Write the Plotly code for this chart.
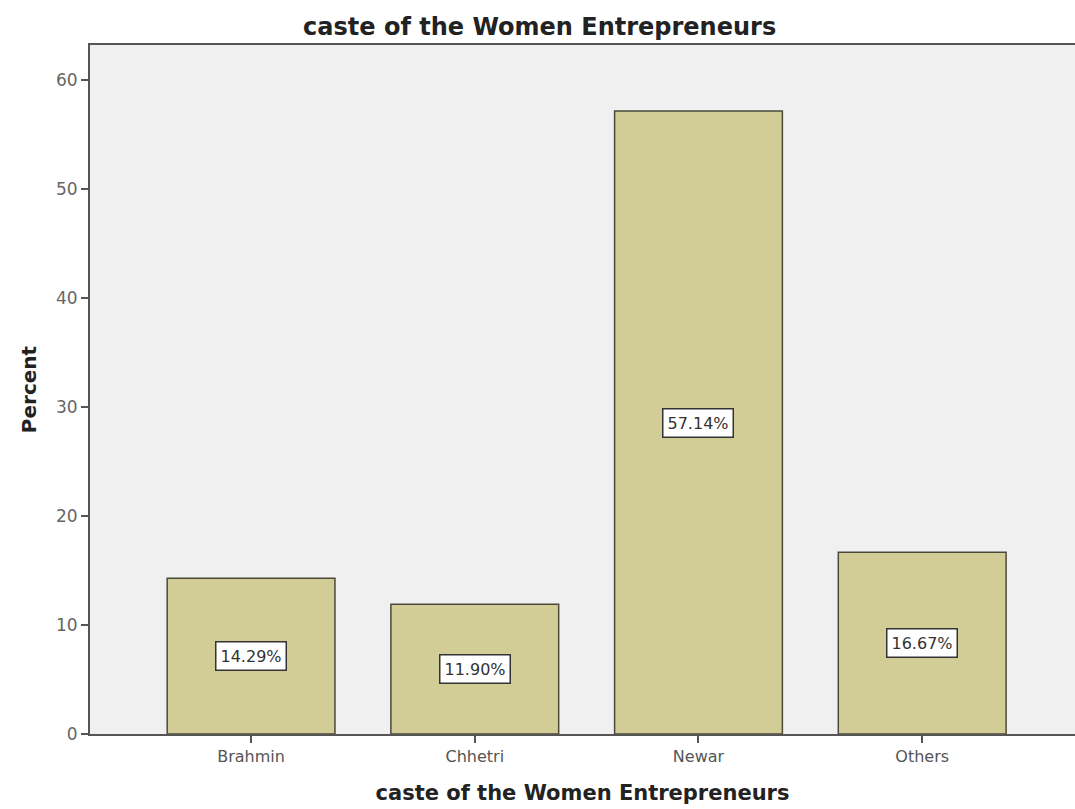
import plotly.graph_objects as go

# Caste distribution of the surveyed women entrepreneurs (percent)
castes = ["Brahmin", "Chhetri", "Newar", "Others"]
percents = [14.29, 11.90, 57.14, 16.67]
y_ticks = [0, 10, 20, 30, 40, 50, 60]

title_text = "caste of the Women Entrepreneurs"
font_family = "DejaVu Sans, Verdana, sans-serif"

fig = go.Figure()
fig.add_trace(go.Bar(
    x=castes,
    y=percents,
    width=0.75,
    marker=dict(color="#D2CD97", line=dict(color="#4a4a3a", width=1.5)),
    hoverinfo="x+y",
))

# Value labels boxed at mid-height of each bar
for c, p in zip(castes, percents):
    fig.add_annotation(
        x=c, y=p / 2, text=f"{p:.2f}%", showarrow=False,
        font=dict(family=font_family, size=16, color="#333333"),
        bgcolor="white", bordercolor="#333333", borderwidth=1.5, borderpad=4,
    )

fig.update_layout(
    width=1075, height=809,
    margin=dict(l=90, r=0, t=45, b=75),
    paper_bgcolor="white",
    plot_bgcolor="#F0F0F0",
    showlegend=False,
    font=dict(family=font_family, color="#555555"),
    title=dict(
        text=f"<b>{title_text}</b>",
        x=0.502, xanchor="center", xref="container",
        y=0.967, yanchor="middle",
        font=dict(family=font_family, size=24, color="#222222"),
    ),
    bargap=0.25,
)

fig.update_xaxes(
    type="category",
    range=[-0.72, 3.683],
    showline=True, linecolor="#555555", linewidth=2, mirror=True,
    ticks="outside", ticklen=7, tickwidth=2, tickcolor="#555555",
    tickfont=dict(family=font_family, size=16, color="#555555"),
    showgrid=False, zeroline=False,
    title=dict(text=f"<b>{title_text}</b>", standoff=20,
               font=dict(family=font_family, size=21, color="#222222")),
)

fig.update_yaxes(
    range=[0, 63.2],
    tickvals=y_ticks,
    showline=True, linecolor="#555555", linewidth=2,
    ticks="outside", ticklen=7, tickwidth=2, tickcolor="#555555",
    tickfont=dict(family=font_family, size=17, color="#666666"),
    showgrid=False, zeroline=False,
    title=dict(text="<b>Percent</b>", standoff=14,
               font=dict(family=font_family, size=20, color="#222222")),
)

fig.write_html("out.html")
